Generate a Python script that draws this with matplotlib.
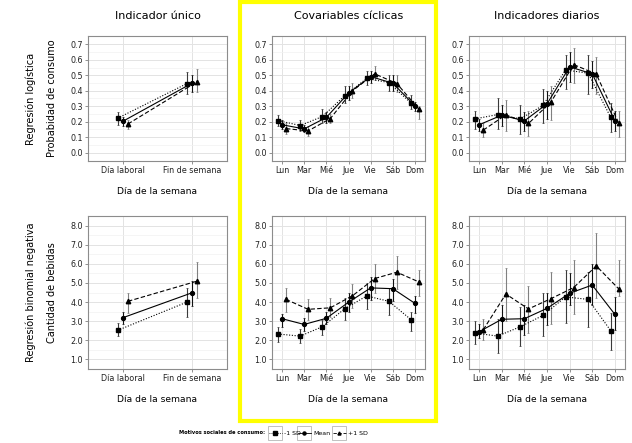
import matplotlib.pyplot as plt
from matplotlib.patches import Rectangle
import numpy as np

days2 = ['Día laboral', 'Fin de semana']
days7 = ['Lun', 'Mar', 'Mié', 'Jue', 'Vie', 'Sáb', 'Dom']
series = ['-1 SD', 'Mean', '+1 SD']
col_titles = ['Indicador único', 'Covariables cíclicas', 'Indicadores diarios']

# --- probabilidad de consumo (regresion logistica) ---
# indicador unico
pu_neg = [0.222, 0.447]; pu_neg_lo = [0.18, 0.38]; pu_neg_hi = [0.26, 0.52]
pu_mid = [0.202, 0.450]; pu_mid_lo = [0.17, 0.39]; pu_mid_hi = [0.23, 0.50]
pu_pos = [0.185, 0.460]; pu_pos_lo = [0.15, 0.39]; pu_pos_hi = [0.21, 0.54]
# covariables ciclicas
pc_neg = [0.207, 0.175, 0.233, 0.367, 0.480, 0.453, 0.320]
pc_neg_lo = [0.17, 0.14, 0.19, 0.32, 0.44, 0.40, 0.28]
pc_neg_hi = [0.24, 0.21, 0.28, 0.43, 0.53, 0.50, 0.37]
pc_mid = [0.180, 0.153, 0.227, 0.385, 0.492, 0.449, 0.302]
pc_mid_lo = [0.15, 0.13, 0.19, 0.34, 0.45, 0.40, 0.27]
pc_mid_hi = [0.21, 0.18, 0.26, 0.43, 0.53, 0.50, 0.33]
pc_pos = [0.155, 0.140, 0.220, 0.400, 0.510, 0.447, 0.280]
pc_pos_lo = [0.12, 0.11, 0.19, 0.35, 0.47, 0.39, 0.22]
pc_pos_hi = [0.19, 0.17, 0.25, 0.45, 0.56, 0.50, 0.30]
# indicadores diarios
pd_neg = [0.218, 0.246, 0.218, 0.305, 0.535, 0.514, 0.227]
pd_neg_lo = [0.15, 0.15, 0.12, 0.19, 0.41, 0.38, 0.13]
pd_neg_hi = [0.27, 0.35, 0.31, 0.41, 0.63, 0.63, 0.32]
pd_mid = [0.180, 0.242, 0.205, 0.315, 0.555, 0.510, 0.207]
pd_mid_lo = [0.14, 0.17, 0.14, 0.22, 0.46, 0.42, 0.14]
pd_mid_hi = [0.22, 0.31, 0.26, 0.40, 0.65, 0.59, 0.27]
pd_pos = [0.145, 0.244, 0.188, 0.328, 0.570, 0.508, 0.188]
pd_pos_lo = [0.10, 0.14, 0.11, 0.21, 0.45, 0.38, 0.10]
pd_pos_hi = [0.19, 0.34, 0.27, 0.43, 0.68, 0.62, 0.27]

# --- cantidad de bebidas (regresion binomial negativa) ---
cu_neg = [2.52, 4.00]; cu_neg_lo = [2.20, 3.20]; cu_neg_hi = [2.90, 4.75]
cu_mid = [3.18, 4.49]; cu_mid_lo = [2.85, 3.80]; cu_mid_hi = [3.50, 5.10]
cu_pos = [4.04, 5.10]; cu_pos_lo = [3.45, 4.20]; cu_pos_hi = [4.50, 6.10]

cc_neg = [2.33, 2.22, 2.71, 3.64, 4.32, 4.04, 3.08]
cc_neg_lo = [1.90, 1.85, 2.30, 3.05, 3.65, 3.30, 2.50]
cc_neg_hi = [2.70, 2.60, 3.05, 4.20, 5.00, 4.75, 3.50]
cc_mid = [3.13, 2.83, 3.15, 3.99, 4.74, 4.70, 3.93]
cc_mid_lo = [2.70, 2.50, 2.85, 3.50, 4.10, 4.05, 3.45]
cc_mid_hi = [3.40, 3.15, 3.50, 4.50, 5.30, 5.20, 4.30]
cc_pos = [4.14, 3.62, 3.70, 4.33, 5.23, 5.56, 5.05]
cc_pos_lo = [3.50, 3.05, 3.20, 3.70, 4.50, 4.70, 4.30]
cc_pos_hi = [4.75, 4.15, 4.20, 4.95, 6.00, 6.40, 5.70]

cd_neg = [2.38, 2.22, 2.71, 3.30, 4.27, 4.14, 2.50]
cd_neg_lo = [1.80, 1.35, 1.70, 2.20, 2.90, 2.70, 1.50]
cd_neg_hi = [3.00, 3.10, 3.75, 4.50, 5.70, 5.55, 3.45]
cd_mid = [2.45, 3.10, 3.13, 3.67, 4.46, 4.89, 3.36]
cd_mid_lo = [2.10, 2.40, 2.30, 2.80, 3.85, 3.85, 2.55]
cd_mid_hi = [2.85, 3.85, 3.85, 4.50, 5.50, 6.00, 4.25]
cd_pos = [2.55, 4.42, 3.64, 4.18, 4.76, 5.89, 4.68]
cd_pos_lo = [2.00, 3.00, 2.40, 2.85, 3.35, 4.20, 4.30]
cd_pos_hi = [3.10, 5.80, 4.85, 5.55, 6.20, 7.60, 6.20]

W, H = 632, 443
fig = plt.figure(figsize=(W / 100, H / 100), dpi=100)

markers = ['s', 'o', '^']
msizes = [3.2, 2.8, 3.2]
lstyles = [(0, (1, 1.5)), '-', (0, (4, 2))]
ecols = ['#3a3a3a', '#111111', '#808080']

cols_px = [(88, 227), (272, 425), (469, 625)]
rows_px = [(36, 161), (216, 369)]


def px_axes(l, r, t, b):
    return fig.add_axes([l / W, 1 - b / H, (r - l) / W, (b - t) / H])


def panel(ax, labels, est, lo, hi, dodge, row):
    x = np.arange(1, len(labels) + 1)
    for k in range(3):
        e = np.array(est[k])
        xs = x + (k - 1) * dodge
        ax.errorbar(xs, e, yerr=[e - np.array(lo[k]), np.array(hi[k]) - e],
                    fmt='none', ecolor=ecols[k], elinewidth=0.8,
                    capsize=0.8, capthick=0.5, zorder=2)
        ax.plot(xs, e, linestyle=lstyles[k], color='black', lw=0.8,
                marker=markers[k], ms=msizes[k], zorder=3)
    ax.set_xticks(x)
    ax.set_xticklabels(labels)
    if len(labels) == 2:
        ax.set_xlim(0.5, 2.5)
    else:
        ax.set_xlim(0.55, 7.45)
    if row == 0:
        ax.set_ylim(-0.055, 0.755)
        ax.set_yticks(np.arange(0, 0.71, 0.1))
        ax.set_yticks(np.arange(0.05, 0.75, 0.1), minor=True)
        ax.set_yticklabels(['%.1f' % v for v in np.arange(0, 0.71, 0.1)])
    else:
        ax.set_ylim(0.5, 8.5)
        ax.set_yticks(np.arange(1, 8.1, 1))
        ax.set_yticks(np.arange(1.5, 8.4, 1), minor=True)
        ax.set_yticklabels(['%.1f' % v for v in np.arange(1, 8.1, 1)])
    ax.set_axisbelow(True)
    ax.grid(which='major', color='#E3E3E3', lw=0.7)
    ax.grid(which='minor', axis='y', color='#F2F2F2', lw=0.5)
    for s in ax.spines.values():
        s.set_color('#8C8C8C')
        s.set_linewidth(0.8)
    ax.tick_params(which='major', length=2.2, width=0.6, color='#7F7F7F',
                   labelsize=5.8, labelcolor='#222222', pad=1.5)
    ax.tick_params(which='minor', length=0)


top = [(pu_neg, pu_mid, pu_pos), (pc_neg, pc_mid, pc_pos), (pd_neg, pd_mid, pd_pos)]
top_lo = [(pu_neg_lo, pu_mid_lo, pu_pos_lo), (pc_neg_lo, pc_mid_lo, pc_pos_lo),
          (pd_neg_lo, pd_mid_lo, pd_pos_lo)]
top_hi = [(pu_neg_hi, pu_mid_hi, pu_pos_hi), (pc_neg_hi, pc_mid_hi, pc_pos_hi),
          (pd_neg_hi, pd_mid_hi, pd_pos_hi)]
bot = [(cu_neg, cu_mid, cu_pos), (cc_neg, cc_mid, cc_pos), (cd_neg, cd_mid, cd_pos)]
bot_lo = [(cu_neg_lo, cu_mid_lo, cu_pos_lo), (cc_neg_lo, cc_mid_lo, cc_pos_lo),
          (cd_neg_lo, cd_mid_lo, cd_pos_lo)]
bot_hi = [(cu_neg_hi, cu_mid_hi, cu_pos_hi), (cc_neg_hi, cc_mid_hi, cc_pos_hi),
          (cd_neg_hi, cd_mid_hi, cd_pos_hi)]

for r, (est_r, lo_r, hi_r) in enumerate([(top, top_lo, top_hi), (bot, bot_lo, bot_hi)]):
    t, b = rows_px[r]
    for c in range(3):
        l, rr = cols_px[c]
        ax = px_axes(l, rr, t, b)
        labels = days2 if c == 0 else days7
        dodge = 0.075 if c == 0 else 0.18
        panel(ax, labels, est_r[c], lo_r[c], hi_r[c], dodge, r)
        fig.text((l + rr) / 2 / W, 1 - (b + 30) / H, 'Día de la semana',
                 ha='center', va='center', fontsize=6.6)
        if r == 0:
            fig.text((l + rr) / 2 / W, 1 - 16 / H, col_titles[c],
                     ha='center', va='center', fontsize=8)

# row labels
fig.text(31 / W, 1 - 98.5 / H, 'Regresión logística', rotation=90,
         ha='center', va='center', fontsize=7)
fig.text(52 / W, 1 - 98.5 / H, 'Probabidad de consumo', rotation=90,
         ha='center', va='center', fontsize=7)
fig.text(31 / W, 1 - 292.5 / H, 'Regresión binomial negativa', rotation=90,
         ha='center', va='center', fontsize=7)
fig.text(52 / W, 1 - 292.5 / H, 'Cantidad de bebidas', rotation=90,
         ha='center', va='center', fontsize=7)

# yellow highlight around the middle column
fig.patches.append(Rectangle((240 / W, 1 - 421 / H), 196 / W, 419 / H,
                             transform=fig.transFigure, fill=False,
                             edgecolor='#FFFF00', lw=3, zorder=10))

# legend (ggplot style boxed keys), drawn in a small axes in pixel units
fig.text(265 / W, 1 - 433 / H, 'Motivos sociales de consumo:', ha='right',
         va='center', fontsize=3.7, fontweight='bold')
lax = px_axes(262, 372, 424, 442)
lax.set_xlim(262, 372)
lax.set_ylim(442, 424)
lax.axis('off')
key_x = [268, 297, 332]
for k in range(3):
    x0 = key_x[k]
    lax.add_patch(Rectangle((x0, 426), 14, 14, facecolor='white',
                            edgecolor='#A8A8A8', lw=0.5))
    lax.plot([x0 + 0.5, x0 + 13.5], [433, 433], color='black', lw=0.6,
             linestyle=lstyles[k])
    lax.plot([x0 + 7], [433], color='black', marker=markers[k], ms=2.2, lw=0)
    lax.text(x0 + 16, 433.3, series[k], ha='left', va='center', fontsize=4.5)

fig.savefig('out.png', dpi=100)
